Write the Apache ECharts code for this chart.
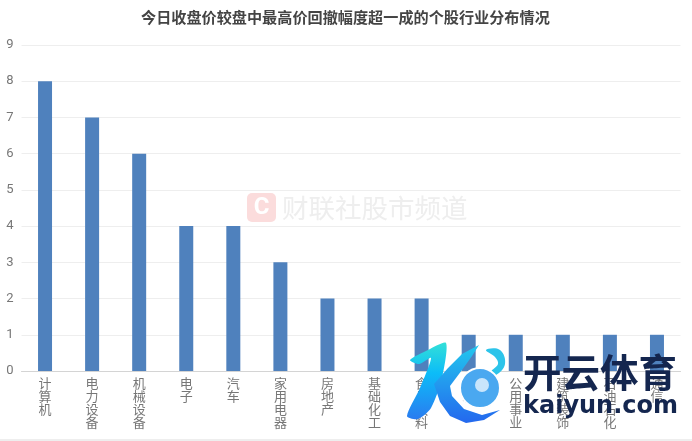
<!DOCTYPE html>
<html>
<head>
<meta charset="utf-8">
<style>
  html, body { margin: 0; padding: 0; background: #fff; }
  #chart { width: 692px; height: 441px; }
</style>
<script src="https://cdn.jsdelivr.net/npm/echarts@6/dist/echarts.min.js"></script>
</head>
<body>
<div id="chart"></div>
<script>
var titleText = '今日收盘价较盘中最高价回撤幅度超一成的个股行业分布情况'
var categories = ['计算机', '电力设备', '机械设备', '电子', '汽车', '家用电器', '房地产', '基础化工', '食品饮料', '煤炭', '公用事业', '建筑装饰', '石油石化', '通信']
var values = [8, 7, 6, 4, 4, 3, 2, 2, 2, 1, 1, 1, 1, 1]
var cjk = '"Noto Sans CJK SC", sans-serif'

var chart = echarts.init(document.getElementById('chart'))
chart.setOption({
  animation: false,
  title: {
    text: titleText,
    left: 141,
    top: 7,
    padding: 0,
    textStyle: { fontFamily: cjk, fontSize: 15.15, lineHeight: 20, fontWeight: 'bold', color: '#444' }
  },
  grid: { left: 21.5, right: 11.5, top: 45, bottom: 70 },
  xAxis: {
    type: 'category',
    data: categories,
    axisTick: { show: false },
    axisLine: { lineStyle: { color: '#d4d4d4' } },
    axisLabel: {
      interval: 0,
      margin: 6,
      fontFamily: cjk,
      fontSize: 13,
      lineHeight: 13,
      color: '#777',
      // 竖排显示
      formatter: function(v) { return v.split('').join('\n') }
    }
  },
  yAxis: {
    type: 'value',
    min: 0,
    max: 9,
    interval: 1,
    axisLine: { show: false },
    axisTick: { show: false },
    splitLine: { lineStyle: { color: '#eeeeee' } },
    axisLabel: { margin: 8, fontFamily: 'Roboto, sans-serif', fontSize: 13, color: '#777' }
  },
  series: [{
    type: 'bar',
    data: values,
    barWidth: 14,
    itemStyle: { color: '#4f81bd' }
  }],
  graphic: [
    // 底部浅色分隔线
    { type: 'rect', silent: true, shape: { x: 0, y: 439, width: 692, height: 2 }, style: { fill: '#eeeeee' } },
    // 财联社水印
    { type: 'rect', silent: true, z: 1, shape: { x: 247, y: 193, width: 29, height: 29, r: 5 }, style: { fill: '#fbdcdc' } },
    { type: 'text', silent: true, z: 1, style: { x: 261.5, y: 207.5, text: 'C', align: 'center', verticalAlign: 'middle', fill: '#fff', font: 'bold 24px Roboto, sans-serif' } },
    { type: 'text', silent: true, z: 1, style: { x: 282, y: 207.5, text: '财联社股市频道', verticalAlign: 'middle', fill: '#eeeeee', font: '26.5px ' + cjk } },
    // 开云体育水印 logo
    { type: 'polygon', silent: true, z: 20, shape: { smooth: 0.25, points: [[446, 343], [428, 350], [410, 360], [419, 364], [431, 358], [420, 388], [407, 416], [418, 419], [431, 408], [442, 378]] }, style: { fill: new echarts.graphic.LinearGradient(0, 0, 0, 1, [{ offset: 0, color: '#33e0d8' }, { offset: 0.4, color: '#0cbcf8' }, { offset: 1, color: '#2a7cf0' }]) } },
    { type: 'polygon', silent: true, z: 20, shape: { points: [[479, 345], [462, 354], [448, 368], [434, 384], [440, 402], [450, 416], [466, 423], [484, 420], [500, 410], [482, 415], [464, 409], [452, 396], [450, 386], [462, 370], [472, 356]] }, style: { fill: new echarts.graphic.LinearGradient(0, 0, 0, 1, [{ offset: 0, color: '#22c8ee' }, { offset: 1, color: '#2468ee' }]) } },
    { type: 'polygon', silent: true, z: 20, shape: { smooth: 0.4, points: [[486, 350], [500, 350], [505, 364], [496, 375], [491, 372], [498, 364], [495, 357]] }, style: { fill: '#2cc4ea' } },
    { type: 'circle', silent: true, z: 21, shape: { cx: 480, cy: 388, r: 20 }, style: { fill: '#4aa8f0', stroke: '#ffffff', lineWidth: 2 } },
    { type: 'circle', silent: true, z: 22, shape: { cx: 482, cy: 385, r: 7 }, style: { fill: '#ffffff', opacity: 0.7 } },
    { type: 'text', silent: true, z: 22, style: { x: 523, y: 372, text: '开云体育', verticalAlign: 'middle', fill: '#14264f', font: 'bold 38.5px ' + cjk } },
    { type: 'text', silent: true, z: 22, style: { x: 523, y: 407, text: 'kaiyun.com', verticalAlign: 'middle', fill: '#14264f', font: 'bold 24px "DejaVu Sans", sans-serif' } }
  ]
})
</script>
</body>
</html>
